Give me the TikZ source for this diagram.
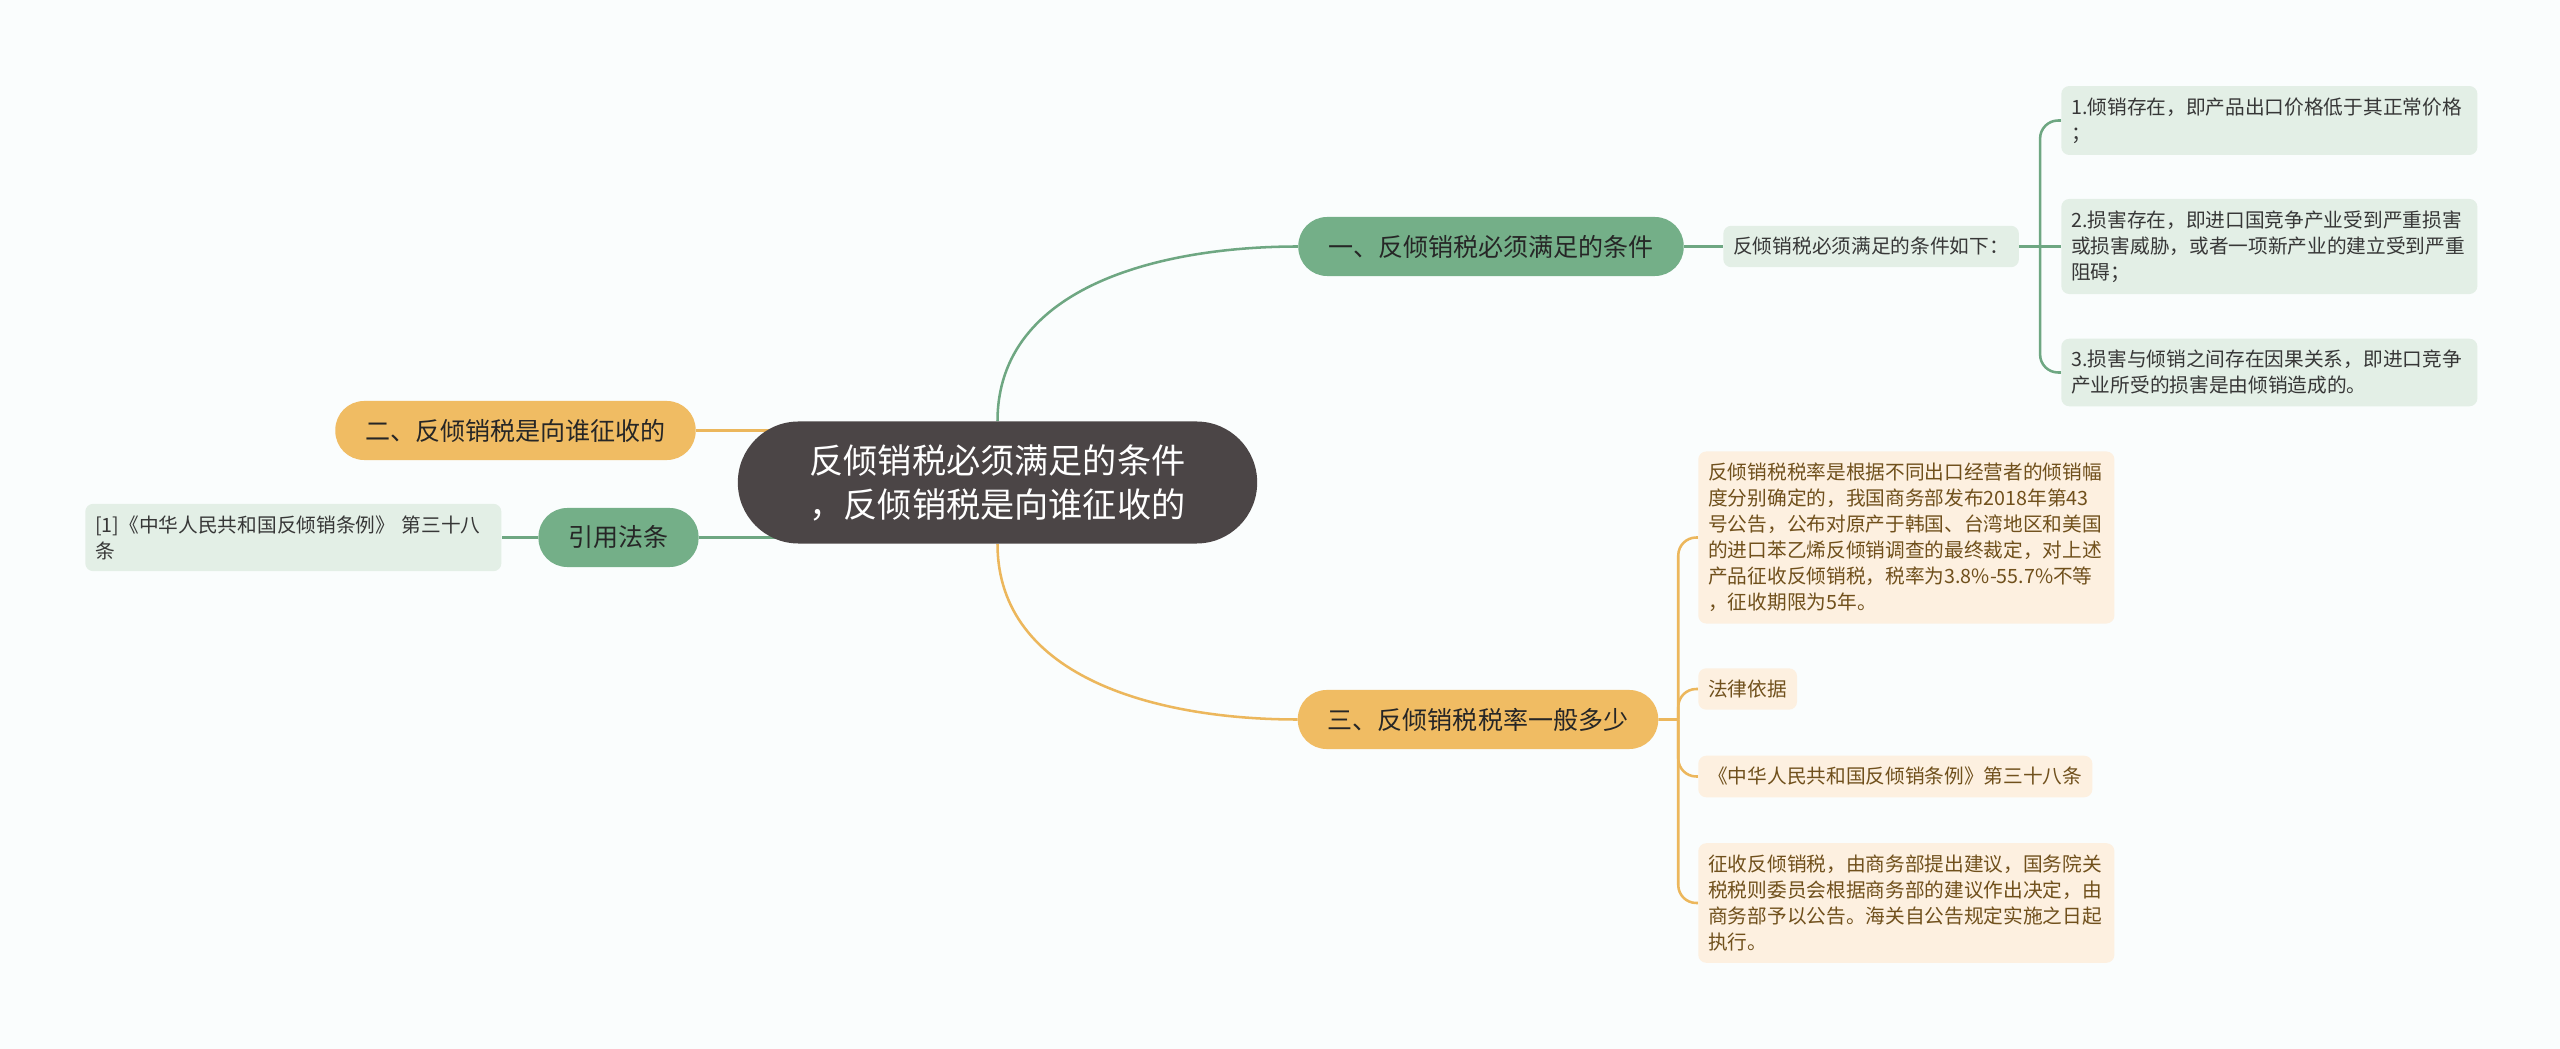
\documentclass[tikz,border=0pt]{standalone}
\usepackage{fontspec}
\setmainfont{Noto Sans CJK SC}
\usetikzlibrary{positioning, calc}
\definecolor{rootfill}{RGB}{75,69,70}
\definecolor{greenfill}{RGB}{116,175,136}
\definecolor{greenline}{RGB}{110,167,130}
\definecolor{leafgreen}{RGB}{227,239,230}
\definecolor{orangefill}{RGB}{240,188,99}
\definecolor{orangeline}{RGB}{236,183,92}
\definecolor{leaforange}{RGB}{253,240,224}
\definecolor{greytext}{RGB}{55,55,55}
\definecolor{browntext}{RGB}{112,80,28}
\definecolor{paper}{RGB}{250,253,253}
\pgfdeclarelayer{bg}
\pgfdeclarelayer{edges}
\pgfsetlayers{bg,edges,main}

\begin{document}
\begin{tikzpicture}[x=0.025cm, y=-0.025cm,
  rootbox/.style={fill=rootfill, text=white, rounded corners=1.52cm, minimum width=12.98cm,
    minimum height=3.05cm, align=center, inner sep=0pt, font=\fontsize{24.3}{31.3}\selectfont},
  topic/.style={rounded corners=0.72cm, minimum height=1.475cm, inner xsep=0.75cm, inner ysep=0pt,
    text=black!85, font=\fontsize{17.8}{22}\selectfont},
  greentopic/.style={topic, fill=greenfill},
  orangetopic/.style={topic, fill=orangefill},
  leaf/.style={rounded corners=0.2cm, inner xsep=0.25cm, inner ysep=0.29cm, align=left,
    font=\fontsize{14}{18.5}\selectfont},
  wideleaf/.style={leaf, text width=9.9cm},
  greenleaf/.style={fill=leafgreen, text=greytext},
  orangeleaf/.style={fill=leaforange, text=browntext},
  greenedge/.style={draw=greenline, line width=1.8pt},
  orangeedge/.style={draw=orangeline, line width=1.8pt}]

\useasboundingbox (0,0) rectangle (2560,1049);
\begin{pgfonlayer}{bg}
\fill[paper] (0,0) rectangle (2560,1049);
\end{pgfonlayer}

% centre
\node[rootbox] (root) at (997.5,482.5) {反倾销税必须满足的条件\\，反倾销税是向谁征收的};

% one: conditions
\node[greentopic] (b1) at (1491,246.5) {一、反倾销税必须满足的条件};
\node[leaf, greenleaf, anchor=west] (sub) at (1723,246.5) {反倾销税必须满足的条件如下：};
\node[wideleaf, greenleaf, anchor=west] (g1) at (2061,120.5) {1.倾销存在，即产品出口价格低于其正常价格\\；};
\node[wideleaf, greenleaf, anchor=west] (g2) at (2061,246.5) {2.损害存在，即进口国竞争产业受到严重损害\\或损害威胁，或者一项新产业的建立受到严重\\阻碍；};
\node[wideleaf, greenleaf, anchor=west] (g3) at (2061,372.5) {3.损害与倾销之间存在因果关系，即进口竞争\\产业所受的损害是由倾销造成的。};

% two: who pays
\node[orangetopic] (b2) at (515.5,430.5) {二、反倾销税是向谁征收的};

% cited law
\node[greentopic] (cite) at (618.5,537.5) {引用法条};
\node[wideleaf, greenleaf, anchor=west] (ref) at (85,537.5) {[1]《中华人民共和国反倾销条例》 第三十八\\条};

% three: rate
\node[orangetopic] (b3) at (1478,719.5) {三、反倾销税税率一般多少};
\node[wideleaf, orangeleaf, anchor=west] (o1) at (1698,537.5) {反倾销税税率是根据不同出口经营者的倾销幅\\度分别确定的，我国商务部发布2018年第43\\号公告，公布对原产于韩国、台湾地区和美国\\的进口苯乙烯反倾销调查的最终裁定，对上述\\产品征收反倾销税，税率为3.8\%-55.7\%不等\\，征收期限为5年。};
\node[leaf, orangeleaf, anchor=west] (o2) at (1698,689) {法律依据};
\node[leaf, orangeleaf, anchor=west] (o3) at (1698,776.5) {《中华人民共和国反倾销条例》第三十八条};
\node[wideleaf, orangeleaf, anchor=west] (o4) at (1698,903) {征收反倾销税，由商务部提出建议，国务院关\\税税则委员会根据商务部的建议作出决定，由\\商务部予以公告。海关自公告规定实施之日起\\执行。};

\coordinate (gfork) at ($(sub.east)!0.5!(g2.west)$);
\coordinate (ofork) at ($(b3.east)!0.5!(b3.east -| o1.west)$);

% connectors
\begin{pgfonlayer}{edges}
\draw[greenedge] (root.north) to[out=90, in=180] (b1.west);
\draw[orangeedge] (root.south) to[out=-90, in=180] (b3.west);
\draw[orangeedge] (b2.east) -- (b2.east -| root.center);
\draw[greenedge] (cite.east) -- (cite.east -| root.center);
\draw[greenedge] (cite.west) -- (ref.east);
\draw[greenedge] (b1.east) -- (sub.west);
\draw[greenedge] (sub.east) -- (g2.west);
\foreach \n in {g1,g3}
  \draw[greenedge, rounded corners=0.45cm] (gfork) |- (\n.west);
\draw[orangeedge] (b3.east) -- (ofork);
\foreach \n in {o1,o2,o3,o4}
  \draw[orangeedge, rounded corners=0.45cm] (ofork) |- (\n.west);
\end{pgfonlayer}
\end{tikzpicture}
\end{document}
